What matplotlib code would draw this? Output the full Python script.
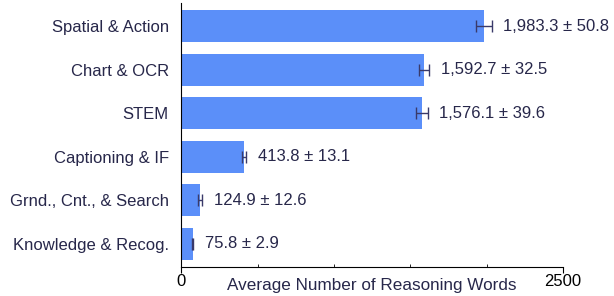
import numpy as np
import matplotlib.pyplot as plt

plt.rcParams['font.family'] = ['Liberation Sans', 'DejaVu Sans']

categories = ["Knowledge & Recog.", "Grnd., Cnt., & Search", "Captioning & IF",
              "STEM", "Chart & OCR", "Spatial & Action"]
means = [75.8, 124.9, 413.8, 1576.1, 1592.7, 1983.3]
errors = [2.9, 12.6, 13.1, 39.6, 32.5, 50.8]

bar_color = '#5b8ff9'
text_color = '#27274a'

fig = plt.figure(figsize=(6.14, 2.96), dpi=100)
ax = fig.add_axes([0.295, 0.098, 0.622, 0.892])

y = np.arange(len(categories))
ax.barh(y, means, height=0.73, color=bar_color)
ax.errorbar(means, y, xerr=errors, fmt='none', ecolor='#3a3a6a',
            elinewidth=1, capsize=4, capthick=1)

for yi, m, e in zip(y, means, errors):
    ax.text(m + e + 75, yi, f"{m:,.1f} \u00b1 {e:.1f}", va='center', ha='left',
            fontsize=12, color=text_color)

ax.set_yticks(y)
ax.set_yticklabels(categories, fontsize=12, color=text_color)
ax.tick_params(axis='y', length=0, pad=9)

ax.set_xlim(0, 2500)
ax.set_ylim(-0.53, 5.53)
ax.set_xticks([0, 2500])
ax.set_xticklabels(['0', '2500'], fontsize=12)
ax.set_xticks([500, 1000, 1500, 2000], minor=True)
ax.tick_params(axis='x', which='major', length=4, pad=1)
ax.tick_params(axis='x', which='minor', length=2, direction='in')
ax.set_xlabel('Average Number of Reasoning Words', fontsize=12.3,
              color=text_color, labelpad=-8)

for s in ['top', 'right']:
    ax.spines[s].set_visible(False)

fig.savefig('out.png', dpi=100)
